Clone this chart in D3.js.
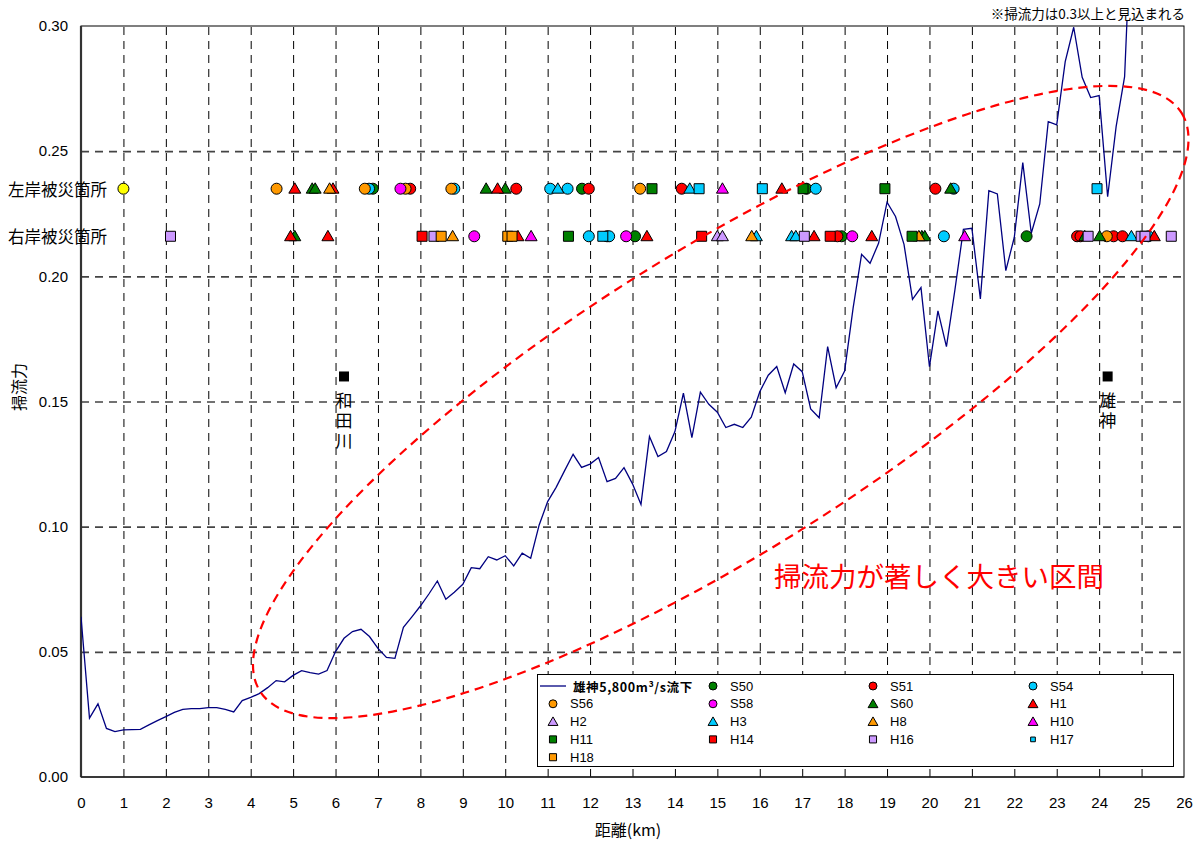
<!DOCTYPE html>
<html><head><meta charset="utf-8">
<script src="https://cdn.jsdelivr.net/npm/d3@7/dist/d3.min.js"></script>
<style>
body{margin:0;background:#fff;}
svg{display:block;font-family:"Liberation Sans","Noto Sans CJK JP",sans-serif;}
.jp{font-family:"Noto Sans CJK JP","Liberation Sans",sans-serif;}
</style></head><body>
<svg id="c" width="1201" height="841"></svg>
<script>
// ---------------- data ----------------
const lineName = "雄神5,800m³/s流下";
const seriesNames = ["S50","S51","S54","S56","S58","S60","H1","H2","H3","H8","H10","H11","H14","H16","H17","H18"];
const distanceKm = [
  0.0,0.2,0.4,0.6,0.8,1.0,1.2,1.4,1.6,1.8,
  2.0,2.2,2.4,2.6,2.8,3.0,3.2,3.4,3.6,3.8,
  4.0,4.2,4.4,4.6,4.8,5.0,5.2,5.4,5.6,5.8,
  6.0,6.2,6.4,6.6,6.8,7.0,7.2,7.4,7.6,7.8,
  8.0,8.2,8.4,8.6,8.8,9.0,9.2,9.4,9.6,9.8,
  10.0,10.2,10.4,10.6,10.8,11.0,11.2,11.4,11.6,11.8,
  12.0,12.2,12.4,12.6,12.8,13.0,13.2,13.4,13.6,13.8,
  14.0,14.2,14.4,14.6,14.8,15.0,15.2,15.4,15.6,15.8,
  16.0,16.2,16.4,16.6,16.8,17.0,17.2,17.4,17.6,17.8,
  18.0,18.2,18.4,18.6,18.8,19.0,19.2,19.4,19.6,19.8,
  20.0,20.2,20.4,20.6,20.8,21.0,21.2,21.4,21.6,21.8,
  22.0,22.2,22.4,22.6,22.8,23.0,23.2,23.4,23.6,23.8,
  24.0,24.2,24.4,24.6,24.8];
const tractiveForce = [
  0.064,0.0235,0.0292,0.0194,0.0181,0.0188,0.0189,0.0190,0.0208,0.0225,
  0.0241,0.0258,0.0270,0.0273,0.0273,0.0277,0.0277,0.0270,0.0260,0.0305,
  0.0318,0.0333,0.0357,0.0385,0.0380,0.0406,0.0425,0.0417,0.0411,0.0425,
  0.0501,0.0554,0.0581,0.0590,0.0561,0.0514,0.0478,0.0474,0.0598,0.0640,
  0.0683,0.0731,0.0783,0.0710,0.0738,0.0770,0.0836,0.0832,0.0880,0.0867,
  0.0884,0.0843,0.0894,0.0874,0.1007,0.1100,0.1157,0.1224,0.1289,0.1237,
  0.1250,0.1276,0.1180,0.1193,0.1236,0.1171,0.1089,0.1360,0.1280,0.1300,
  0.1380,0.1533,0.1356,0.1537,0.1489,0.1457,0.1396,0.1409,0.1396,0.1437,
  0.1539,0.1605,0.1640,0.1535,0.1650,0.1619,0.1470,0.1435,0.1719,0.1555,
  0.1622,0.1873,0.2088,0.2052,0.2132,0.2296,0.2239,0.2128,0.1908,0.1955,
  0.1639,0.1862,0.1719,0.1946,0.2188,0.2192,0.1910,0.2342,0.2329,0.2023,
  0.2156,0.2454,0.2172,0.2289,0.2618,0.2605,0.2858,0.2995,0.2795,0.2714,
  0.2722,0.2318,0.2598,0.2798,0.360];
// damage sites: [series, km]
const leftBankSites = [
  ["etc",1.00],["S56",4.61],["H1",5.04],["S60",5.45],["S60",5.52],["H1",5.94],["H8",5.86],
  ["S56",6.69],["S54",6.79],["S50",6.88],["S58",7.53],["S56",7.65],["S51",7.76],
  ["S56",8.73],["S54",8.80],["S60",9.55],["H1",9.82],["S60",10.00],["S51",10.26],
  ["S54",11.06],["H3",11.24],["S54",11.47],["S50",11.81],["S51",11.97],
  ["S56",13.18],["H11",13.46],["S51",14.16],["H3",14.35],["H17",14.57],["H10",15.12],
  ["H17",16.06],["H1",16.52],["H11",17.02],["S50",17.10],["S54",17.32],
  ["H11",18.95],["S51",20.14],["S60",20.50],["S54",20.57],["H17",23.95]];
const rightBankSites = [
  ["H16",2.11],["H1",4.94],["S60",5.04],["H1",5.82],["H14",8.04],["H16",8.32],["H18",8.49],
  ["H8",8.76],["S58",9.27],["H18",10.06],["H18",10.16],["H1",10.30],["H10",10.61],
  ["H11",11.49],["S54",11.97],["H17",12.30],["S51",12.40],["S54",12.45],
  ["S58",12.85],["S50",13.06],["H1",13.34],["H14",14.63],["H2",15.00],["H2",15.12],
  ["H8",15.81],["H3",15.92],["H3",16.75],["H3",16.85],["H16",17.05],["H1",17.28],
  ["H14",17.66],["S51",17.83],["S50",17.93],["S58",18.18],["H1",18.64],
  ["H11",19.59],["H8",19.75],["S60",19.82],["S60",19.89],["S54",20.34],["H10",20.83],
  ["S50",22.29],["S51",23.48],["S51",23.56],["S60",23.66],["H16",23.74],
  ["S60",24.01],["S56",24.18],["S51",24.34],["S51",24.55],["H3",24.76],
  ["H16",24.99],["H16",25.08],["S54",25.16],["H1",25.30],["H16",25.70]];
const bankLabels = ["左岸被災箇所","右岸被災箇所"];
const bankLevels = [0.235, 0.216];
const landmarkNames = ["和田川","雄神"];
const landmarkKm = [6.2, 24.2];
const landmarkLevel = [0.16, 0.16];
const xTickValues = [0,1,2,3,4,5,6,7,8,9,10,11,12,13,14,15,16,17,18,19,20,21,22,23,24,25,26];
const yTickValues = [0,0.05,0.10,0.15,0.20,0.25,0.30];
const xTitle = "距離(km)";
const yTitle = "掃流力";
const noteText = "※掃流力は0.3以上と見込まれる";
const annotationText = "掃流力が著しく大きい区間";
const ellipseCenter = [15.08, 0.1498];

// ---------------- styles ----------------
const seriesShape = ["circle","circle","circle","circle","circle","triangle","triangle","triangle","triangle","triangle","triangle","square","square","square","square","square"];
const seriesColor = ["#008000","#ff0000","#00ccff","#ff9900","#ff00ff","#008000","#ff0000","#cc99ff","#00ccff","#ff9900","#ff00ff","#008000","#ff0000","#cc99ff","#00ccff","#ff9900"];
const extraColor = "#ffff00";

// ---------------- chart ----------------
const L=81, R=1184, T=26, B=777;
const x = d3.scaleLinear().domain([0,26]).range([L,R]);
const y = d3.scaleLinear().domain([0,0.30]).range([B,T]);
const svg = d3.select("#c");

// grid (vertical)
svg.append("g").attr("transform",`translate(0,${B})`)
  .call(d3.axisBottom(x).tickValues(xTickValues.filter(d=>d>0&&d<26)).tickSize(-(B-T)).tickFormat(""))
  .call(g=>g.select(".domain").remove())
  .call(g=>g.selectAll("line").attr("stroke","#000").attr("stroke-width",1).attr("stroke-dasharray","8,6"));
// grid (horizontal)
svg.append("g").attr("transform",`translate(${L},0)`)
  .call(d3.axisLeft(y).tickValues(yTickValues.filter(d=>d>0&&d<0.3)).tickSize(-(R-L)).tickFormat(""))
  .call(g=>g.select(".domain").remove())
  .call(g=>g.selectAll("line").attr("stroke","#444").attr("stroke-width",1.6).attr("stroke-dasharray","8,6"));

// axes labels
svg.append("g").attr("transform",`translate(0,${B})`)
  .call(d3.axisBottom(x).tickValues(xTickValues).tickSize(0).tickPadding(20).tickFormat(d3.format("d")))
  .call(g=>g.select(".domain").remove())
  .call(g=>g.selectAll("text").attr("font-size",15).attr("fill","#000").attr("font-family","Liberation Sans"));
svg.append("g").attr("transform",`translate(${L},0)`)
  .call(d3.axisLeft(y).tickValues(yTickValues).tickSize(0).tickPadding(13).tickFormat(d3.format(".2f")))
  .call(g=>g.select(".domain").remove())
  .call(g=>g.selectAll("text").attr("font-size",15).attr("fill","#000").attr("font-family","Liberation Sans"));

// border
svg.append("rect").attr("x",L).attr("y",T).attr("width",R-L).attr("height",B-T)
  .attr("fill","none").attr("stroke","#000").attr("stroke-width",1);
svg.append("line").attr("x1",L).attr("x2",L).attr("y1",T).attr("y2",B).attr("stroke","#333").attr("stroke-width",2.2);
svg.append("line").attr("x1",L).attr("x2",R).attr("y1",B).attr("y2",B).attr("stroke","#222").attr("stroke-width",1.6);

// bank labels
svg.selectAll("text.bank").data(bankLabels).join("text").attr("class","bank jp")
  .attr("x",8).attr("y",(d,i)=>y(bankLevels[i])).attr("dominant-baseline","central")
  .attr("font-size",16.5).attr("fill","#000").text(d=>d);

// line
svg.append("clipPath").attr("id","clip").append("rect").attr("x",L).attr("y",T-6).attr("width",R-L).attr("height",B-T+6);
const lineData = distanceKm.map((k,i)=>({k, v:tractiveForce[i]}));
svg.append("path").datum(lineData).attr("clip-path","url(#clip)")
  .attr("fill","none").attr("stroke","#000080").attr("stroke-width",1.3)
  .attr("d",d3.line().x(d=>x(d.k)).y(d=>y(d.v)));

// markers
const symType = {circle:d3.symbolCircle, triangle:d3.symbolTriangle, square:d3.symbolSquare};
const symSize = {circle:95, triangle:62, square:100};
function siteRows(list, level){
  return list.map(([s,k])=>{
    const idx = seriesNames.indexOf(s);
    return {idx, k, level, shape: idx<0?"circle":seriesShape[idx], color: idx<0?extraColor:seriesColor[idx]};
  });
}
const sites = siteRows(leftBankSites, bankLevels[0]).concat(siteRows(rightBankSites, bankLevels[1]))
  .sort((a,b)=>a.idx-b.idx);
svg.append("g").selectAll("path").data(sites).join("path")
  .attr("transform",d=>`translate(${x(d.k)},${y(d.level)+(d.shape==="triangle"?1:0)})`)
  .attr("d",d=>d3.symbol(symType[d.shape], symSize[d.shape])())
  .attr("fill",d=>d.color).attr("stroke","#000").attr("stroke-width",1);

// landmarks (vertical text)
landmarkNames.forEach((name,i)=>{
  const cx = x(landmarkKm[i]), cy = y(landmarkLevel[i]);
  svg.append("path").attr("transform",`translate(${cx},${cy})`)
    .attr("d",d3.symbol(d3.symbolSquare,100)()).attr("fill","#000");
  svg.append("text").attr("class","jp").attr("x",cx).attr("y",cy+16)
    .attr("writing-mode","vertical-rl").attr("letter-spacing",3)
    .attr("font-size",17).attr("fill","#000").text(name);
});

// ellipse annotation
const ecx = x(ellipseCenter[0]), ecy = y(ellipseCenter[1]);
svg.append("ellipse").attr("cx",ecx).attr("cy",ecy).attr("rx",544).attr("ry",151)
  .attr("transform",`rotate(-32.1,${ecx},${ecy})`)
  .attr("fill","none").attr("stroke","#ff0000").attr("stroke-width",2.2).attr("stroke-dasharray","9,6");
svg.append("text").attr("class","jp").attr("x",774).attr("y",575).attr("dominant-baseline","central")
  .attr("font-size",27.5).attr("fill","#ff0000").text(annotationText);

// note
svg.append("text").attr("class","jp").attr("x",1185).attr("y",13).attr("text-anchor","end")
  .attr("dominant-baseline","central").attr("font-size",13.5).attr("fill","#000").text(noteText);

// axis titles
svg.append("text").attr("class","jp").attr("transform","translate(18,387) rotate(-90)")
  .attr("text-anchor","middle").attr("dominant-baseline","central").attr("font-size",16).attr("fill","#000").text(yTitle);
svg.append("text").attr("class","jp").attr("x",628).attr("y",829).attr("text-anchor","middle")
  .attr("dominant-baseline","central").attr("font-size",16).attr("fill","#000").text(xTitle);

// legend
const lg = svg.append("g");
lg.append("rect").attr("x",537.5).attr("y",674.5).attr("width",636).attr("height",92)
  .attr("fill","#fff").attr("stroke","#000").attr("stroke-width",1);
const colX = [553,713,873,1033], rowY0 = 686, rowDy = 17.8;
lg.append("line").attr("x1",540).attr("x2",566).attr("y1",rowY0).attr("y2",rowY0)
  .attr("stroke","#000080").attr("stroke-width",1.3);
lg.append("text").attr("class","jp").attr("x",573).attr("y",rowY0).attr("dominant-baseline","central")
  .attr("font-size",12.5).attr("font-weight","bold").attr("letter-spacing",0.6).attr("fill","#000").text(lineName);
const legSize = {circle:50, triangle:42, square:50};
seriesNames.forEach((s,i)=>{
  const pos = i+1, cx = colX[pos%4], cy = rowY0 + Math.floor(pos/4)*rowDy;
  const sh = seriesShape[i];
  const sz = s==="H17" ? 22 : legSize[sh];
  lg.append("path").attr("transform",`translate(${cx},${cy+(sh==="triangle"?1:0)})`)
    .attr("d",d3.symbol(symType[sh], sz)()).attr("fill",seriesColor[i]).attr("stroke","#000").attr("stroke-width",1);
  lg.append("text").attr("x",cx+17).attr("y",cy).attr("dominant-baseline","central")
    .attr("font-size",13).attr("fill","#000").text(s);
});
</script>
</body></html>
